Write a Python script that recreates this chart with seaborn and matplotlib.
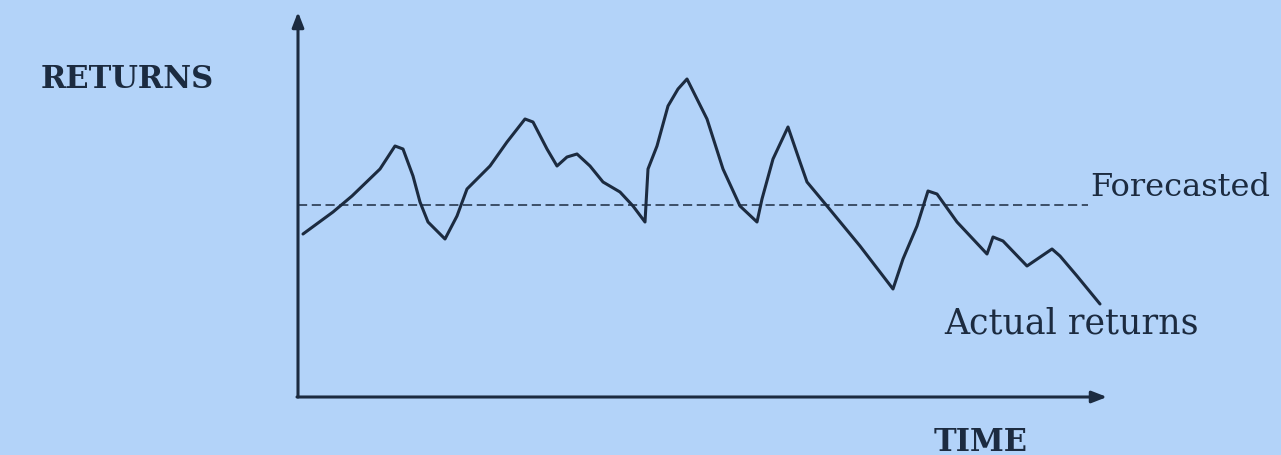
import pandas as pd
import matplotlib.pyplot as plt
import seaborn as sns

# ======================================
# DATA
# ======================================

time = [5, 35, 54, 82, 97, 105, 115, 122, 130, 147, 159, 169, 192, 209, 227,
        235, 249, 259, 269, 279, 292, 305, 322, 335, 347, 350, 359, 370, 380,
        389, 409, 425, 442, 459, 464, 475, 490, 502, 509, 529, 562, 595, 605,
        619, 630, 639, 659, 689, 695, 705, 729, 754, 762, 779, 802]
actual_returns = [163, 185, 201, 228, 251, 248, 221, 195, 175, 158, 181, 208,
                  231, 255, 278, 275, 248, 231, 240, 243, 231, 215, 205, 191,
                  175, 228, 251, 291, 308, 318, 278, 228, 191, 175, 198, 238,
                  270, 235, 215, 191, 151, 108, 138, 171, 206, 203, 175, 143,
                  160, 156, 131, 148, 141, 121, 93]

forecast_time = [0, 790]
forecast_level = [192, 192]

df_actual = pd.DataFrame({"time": time, "returns": actual_returns})
df_forecast = pd.DataFrame({"time": forecast_time, "returns": forecast_level})

# ======================================
# STYLE
# ======================================

bg = "#b3d3f9"
ink = "#1c2b40"

sns.set_style("white")
plt.rcParams['font.family'] = ['DejaVu Serif']

fig = plt.figure(figsize=(12.81, 4.56), dpi=100, facecolor=bg)
ax = fig.add_axes([0, 0, 1, 1])
ax.set_facecolor(bg)

# ======================================
# LINES
# ======================================

sns.lineplot(data=df_actual, x="time", y="returns", ax=ax,
             color=ink, linewidth=2.2, estimator=None, sort=False)
sns.lineplot(data=df_forecast, x="time", y="returns", ax=ax,
             color=ink, linewidth=1.1, linestyle=(0, (6, 3)), estimator=None)

# axes arrows
arrow = dict(arrowstyle="-|>,head_length=0.9,head_width=0.35",
             color=ink, lw=2.2, shrinkA=0, shrinkB=0)
ax.annotate("", xy=(0, 385), xytext=(0, 0), arrowprops=arrow)
ax.annotate("", xy=(809, 0), xytext=(-1, 0), arrowprops=arrow)

# ======================================
# LABELS
# ======================================

ax.text(-171, 318, "RETURNS", fontsize=22, fontweight="bold",
        color=ink, ha="center", va="center")
ax.text(683, -45, "TIME", fontsize=22, fontweight="bold",
        color=ink, ha="center", va="center")
ax.text(792, 211, "Forecasted", fontsize=23, color=ink,
        ha="left", va="center")
ax.text(773, 75, "Actual returns", fontsize=25, color=ink,
        ha="center", va="center")

ax.set_xlim(-298, 983)
ax.set_ylim(-58, 398)
ax.set_xlabel("")
ax.set_ylabel("")
ax.axis("off")

plt.savefig("out.png", dpi=100, facecolor=bg)
